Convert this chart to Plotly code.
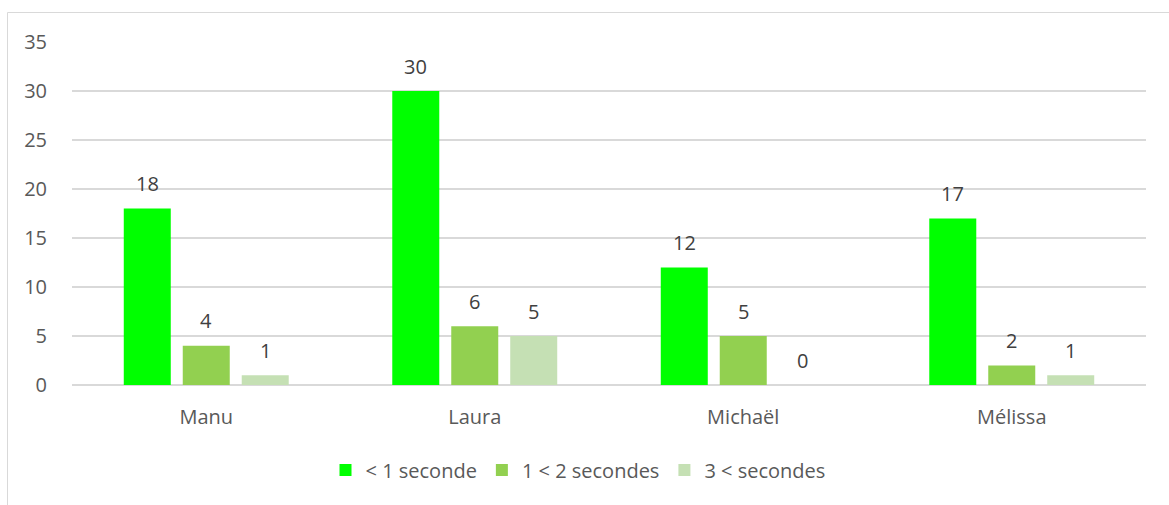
import plotly.graph_objects as go

categories = ["Manu", "Laura", "Michaël", "Mélissa"]
series_names = ["< 1 seconde", "1 < 2 secondes", "3 < secondes"]
s1 = [18, 30, 12, 17]
s2 = [4, 6, 5, 2]
s3 = [1, 5, 0, 1]
series_values = [s1, s2, s3]
colors = ["#00FF00", "#92D050", "#C5E0B4"]
y_ticks = [0, 5, 10, 15, 20, 25, 30, 35]

W, H = 1169, 505
L, R, T, B = 72, 23, 42, 120
pw, ph = W - L - R, H - T - B

FONT = "Open Sans"

fig = go.Figure()
for name, vals, col in zip(series_names, series_values, colors):
    fig.add_trace(go.Bar(
        x=categories, y=vals, name=name,
        marker=dict(color=col, line=dict(width=0)),
        hoverinfo="skip",
    ))

slot = pw / len(categories) * (1 - 0.341) / 3
annotations = []
for i, vals in enumerate(series_values):
    for c, v in zip(categories, vals):
        annotations.append(dict(
            x=c, y=v, xref="x", yref="y", text=str(v), showarrow=False,
            xshift=(i - 1) * slot, yshift=25,
            font=dict(family=FONT, size=20, color="#404040"),
        ))

fig.update_layout(
    width=W, height=H,
    margin=dict(l=L, r=R, t=T, b=B),
    paper_bgcolor="white", plot_bgcolor="white",
    barmode="group", bargap=0.341, bargroupgap=0.203,
    font=dict(family=FONT, size=20, color="#595959"),
    showlegend=True,
    legend=dict(
        orientation="h", x=(578 - L) / pw, xanchor="center",
        y=(385 - 470) / ph, yanchor="middle",
        font=dict(family=FONT, size=20, color="#595959"),
        itemwidth=30, traceorder="normal",
    ),
    annotations=annotations,
    shapes=[dict(
        type="rect", xref="paper", yref="paper",
        x0=(7.5 - L) / pw, x1=(W + 10 - L) / pw,
        y0=(385 - 12.5) / ph, y1=(385 - (H + 10)) / ph,
        line=dict(color="#D9D9D9", width=1), fillcolor="rgba(0,0,0,0)",
        layer="below",
    )],
)
fig.update_xaxes(
    showgrid=False, showline=False, zeroline=False,
    ticks="", ticklabelstandoff=18,
    tickfont=dict(family=FONT, size=20, color="#595959"),
)
fig.update_yaxes(
    range=[0, 35], tickvals=y_ticks, showgrid=True,
    gridcolor="#D9D9D9", gridwidth=1.5,
    zeroline=True, zerolinecolor="#D9D9D9", zerolinewidth=1.5,
    showline=False, ticks="", ticklabelstandoff=24,
    tickfont=dict(family=FONT, size=20, color="#595959"),
)

fig.write_html("out.html")
